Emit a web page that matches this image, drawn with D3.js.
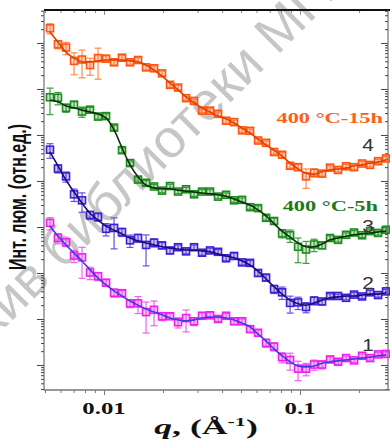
<!DOCTYPE html>
<html>
<head>
<meta charset="utf-8">
<script src="https://cdn.jsdelivr.net/npm/d3@7"></script>
<style>
  body { margin: 0; background: #fff; }
  svg { display: block; }
</style>
</head>
<body>
<svg id="chart" width="390" height="439"></svg>
<script>
// scattering vector q, 1/A
const q = [0.00530, 0.00582, 0.00640, 0.00703, 0.00772, 0.00848, 0.00932, 0.01024, 0.01125, 0.01235,
  0.01357, 0.01491, 0.01638, 0.01799, 0.01976, 0.02171, 0.02386, 0.02621, 0.02879, 0.03162,
  0.03474, 0.03816, 0.04193, 0.04606, 0.05060, 0.05559, 0.06107, 0.06709, 0.07370, 0.08097,
  0.08895, 0.09772, 0.1073, 0.1179, 0.1295, 0.1423, 0.1563, 0.1717, 0.1886, 0.2072,
  0.2276, 0.2500, 0.2747];

// lg of the fitted intensity (curves shifted for clarity)
const lgI4 = [7.24, 7.02, 6.80, 6.67, 6.59, 6.59, 6.61, 6.63, 6.63, 6.63, 6.61, 6.59, 6.52, 6.41, 6.28,
  6.13, 5.98, 5.83, 5.70, 5.59, 5.50, 5.41, 5.35, 5.26, 5.15, 5.04, 4.91, 4.78, 4.67, 4.54,
  4.39, 4.26, 4.17, 4.15, 4.20, 4.24, 4.26, 4.28, 4.33, 4.35, 4.39, 4.41, 4.46];
const lgI3 = [5.76, 5.72, 5.63, 5.59, 5.54, 5.50, 5.46, 5.37, 5.11, 4.72, 4.35, 4.09, 3.91, 3.85, 3.83,
  3.83, 3.80, 3.78, 3.76, 3.74, 3.72, 3.70, 3.67, 3.61, 3.54, 3.48, 3.37, 3.24, 3.07, 2.91,
  2.78, 2.65, 2.57, 2.57, 2.63, 2.72, 2.76, 2.80, 2.83, 2.85, 2.87, 2.89, 2.91];
const lgI2 = [4.63, 4.33, 4.02, 3.76, 3.52, 3.30, 3.15, 3.02, 2.93, 2.85, 2.76, 2.70, 2.65, 2.61, 2.57,
  2.54, 2.52, 2.50, 2.50, 2.48, 2.46, 2.41, 2.37, 2.33, 2.26, 2.17, 2.04, 1.87, 1.70, 1.54,
  1.41, 1.33, 1.30, 1.35, 1.41, 1.46, 1.48, 1.50, 1.50, 1.52, 1.54, 1.54, 1.57];
const lgI1 = [3.02, 2.80, 2.61, 2.43, 2.26, 2.07, 1.89, 1.74, 1.61, 1.50, 1.39, 1.30, 1.22, 1.15, 1.09,
  1.02, 0.98, 0.96, 0.98, 1.02, 1.04, 1.04, 1.02, 0.98, 0.91, 0.83, 0.67, 0.52, 0.35, 0.20,
  0.07, -0.02, -0.04, -0.02, 0.04, 0.07, 0.09, 0.11, 0.13, 0.15, 0.17, 0.20, 0.22];

// measured points: deviation from the fit (lg units)
const dev4 = [0.08, -0.05, 0.10, -0.06, 0.05, -0.07, 0.06, 0.03, -0.05, 0.05, -0.03, 0.04, -0.05, 0.04, 0.06,
  -0.04, 0.05, -0.03, 0.04, -0.06, 0.03, 0.05, -0.04, 0.02, -0.05, 0.05, -0.03, 0.05, -0.04, 0.03,
  -0.06, 0.04, -0.07, 0.03, -0.04, 0.05, -0.02, 0.04, -0.03, 0.03, -0.04, 0.02, 0.03];
const dev3 = [0.06, 0.09, -0.04, 0.07, -0.03, 0.05, -0.06, 0.04, 0.05, -0.05, 0.04, -0.06, 0.05, 0.03, -0.04,
  0.06, -0.03, 0.04, -0.05, 0.03, 0.05, -0.04, 0.03, -0.03, 0.05, -0.05, 0.04, -0.04, 0.06, -0.05,
  0.04, -0.08, -0.06, 0.05, -0.03, 0.04, -0.04, 0.03, 0.05, -0.03, 0.04, -0.02, 0.03];
const dev2 = [0.05, -0.06, 0.08, -0.05, 0.06, -0.04, 0.07, -0.06, 0.05, 0.04, -0.05, 0.06, -0.04, 0.05, 0.03,
  -0.05, 0.04, -0.03, 0.06, -0.04, 0.03, 0.05, -0.05, 0.04, -0.03, 0.05, -0.04, 0.03, -0.05, 0.04,
  -0.06, 0.03, -0.04, 0.05, -0.03, 0.04, 0.02, -0.04, 0.03, -0.03, 0.04, -0.02, 0.03];
const dev1 = [0.07, -0.04, 0.06, -0.05, 0.08, -0.06, 0.04, 0.05, -0.04, 0.06, -0.05, 0.04, -0.07, 0.05, -0.03,
  0.04, -0.05, 0.06, -0.03, 0.05, 0.04, -0.04, 0.05, -0.03, 0.04, -0.05, 0.03, -0.04, 0.05, -0.03,
  0.04, -0.06, -0.04, 0.03, -0.03, 0.05, -0.02, 0.04, -0.03, 0.05, -0.02, 0.03, 0.02];

// relative errors sigma/I
const err4 = [0.25, 0.2, 0.3, 0.5, 0.6, 0.4, 0.65, 0.15, 0.12, 0.12, 0.12, 0.12, 0.12, 0.12, 0.12,
  0.12, 0.12, 0.1, 0.1, 0.1, 0.1, 0.1, 0.12, 0.1, 0.1, 0.1, 0.1, 0.1, 0.1, 0.12,
  0.12, 0.15, 0.45, 0.2, 0.12, 0.1, 0.1, 0.1, 0.1, 0.1, 0.1, 0.1, 0.1];
const err3 = [0.58, 0.3, 0.2, 0.15, 0.25, 0.12, 0.12, 0.12, 0.12, 0.12, 0.12, 0.12, 0.12, 0.1, 0.1,
  0.1, 0.1, 0.1, 0.1, 0.1, 0.1, 0.1, 0.1, 0.1, 0.1, 0.1, 0.12, 0.12, 0.15, 0.2,
  0.3, 0.55, 0.5, 0.3, 0.15, 0.12, 0.1, 0.1, 0.1, 0.1, 0.1, 0.1, 0.1];
const err2 = [0.35, 0.2, 0.25, 0.3, 0.45, 0.2, 0.2, 0.3, 0.65, 0.2, 0.3, 0.2, 0.65, 0.2, 0.15,
  0.15, 0.12, 0.12, 0.12, 0.12, 0.12, 0.12, 0.12, 0.15, 0.12, 0.12, 0.15, 0.15, 0.2, 0.3,
  0.4, 0.3, 0.25, 0.2, 0.15, 0.12, 0.1, 0.1, 0.1, 0.1, 0.1, 0.1, 0.1];
const err1 = [0.3, 0.25, 0.2, 0.3, 0.65, 0.3, 0.2, 0.15, 0.2, 0.15, 0.2, 0.4, 0.65, 0.55, 0.2,
  0.15, 0.25, 0.5, 0.2, 0.15, 0.15, 0.12, 0.12, 0.15, 0.12, 0.15, 0.15, 0.2, 0.2, 0.25,
  0.4, 0.45, 0.3, 0.25, 0.2, 0.15, 0.12, 0.1, 0.1, 0.1, 0.1, 0.1, 0.1];

const xLabels = [0.01, 0.1];
const curveNums = ['4', '3', '2', '1'];
const sampleNames = ['400 °C-15h', '400 °C-5h'];

const svg = d3.select('#chart');
const L = 44, R = 388, T = 10, B = 390;

const x = d3.scaleLog().domain([0.00494, 0.281]).range([L, R]);
const y = d3.scaleLog().domain([0.286, 5.21e7]).range([B, T]);

const serif = '"Liberation Serif", "DejaVu Serif", serif';
const sans = '"Liberation Sans", Arial, sans-serif';

// watermark
svg.append('text')
  .attr('transform', 'translate(-55,388) rotate(-45)')
  .attr('font-family', sans)
  .attr('font-size', 54)
  .attr('fill', '#c6c6c6')
  .text('Архив библиотеки МГУ');

// axes
const isMajor = v => Math.abs(Math.log10(v) - Math.round(Math.log10(v))) < 1e-6;

function styleTicks(g, big, small, color) {
  g.select('.domain').remove();
  g.selectAll('.tick line').attr('stroke', color).attr('stroke-width', 1);
  g.selectAll('.tick text').remove();
  g.selectAll('.tick').each(function (d) {
    const ln = d3.select(this).select('line');
    const len = isMajor(d) ? big : small;
    if (ln.attr('x2') !== null && +ln.attr('x2') !== 0) ln.attr('x2', Math.sign(+ln.attr('x2')) * len);
    if (ln.attr('y2') !== null && +ln.attr('y2') !== 0) ln.attr('y2', Math.sign(+ln.attr('y2')) * len);
  });
}

svg.append('g').attr('transform', `translate(0,${B})`)
  .call(d3.axisBottom(x).tickValues(x.ticks()).tickSize(4))
  .call(g => styleTicks(g, 5, 3, '#777'));
svg.append('g').attr('transform', `translate(0,${T})`)
  .call(d3.axisBottom(x).tickValues(x.ticks()).tickSize(4))
  .call(g => styleTicks(g, 5, 3, '#888'));
svg.append('g').attr('transform', `translate(${L},0)`)
  .call(d3.axisLeft(y).tickValues(y.ticks()).tickSize(3))
  .call(g => styleTicks(g, 7, 3, '#444'));
svg.append('g').attr('transform', `translate(${R},0)`)
  .call(d3.axisLeft(y).tickValues(y.ticks()).tickSize(3))
  .call(g => styleTicks(g, 7, 3, '#444'));

svg.append('line').attr('x1', L).attr('x2', 390).attr('y1', T).attr('y2', T)
  .attr('stroke', '#111').attr('stroke-width', 2);
svg.append('line').attr('x1', L).attr('x2', 390).attr('y1', B).attr('y2', B)
  .attr('stroke', '#777').attr('stroke-width', 1.5);
svg.append('line').attr('x1', L).attr('x2', L).attr('y1', T).attr('y2', B)
  .attr('stroke', '#555').attr('stroke-width', 1);
svg.append('line').attr('x1', R).attr('x2', R).attr('y1', T).attr('y2', B)
  .attr('stroke', '#555').attr('stroke-width', 1);

// curves
const series = [
  { lg: lgI4, dev: dev4, err: err4, pt: '#ff5512', bar: '#ff8a48', fit: '#e04000' },
  { lg: lgI3, dev: dev3, err: err3, pt: '#1f8c1f', bar: '#3aa03a', fit: '#0b2f0b' },
  { lg: lgI2, dev: dev2, err: err2, pt: '#3d1fd6', bar: '#6a50e0', fit: '#151070' },
  { lg: lgI1, dev: dev1, err: err1, pt: '#f01ef0', bar: '#f060f0', fit: '#3c3ce0' }
];

const line = d3.line().x(d => x(d[0])).y(d => y(d[1])).curve(d3.curveCatmullRom);

series.forEach(s => {
  const pts = q.map((qv, i) => ({ q: qv, I: Math.pow(10, s.lg[i] + s.dev[i]), e: s.err[i] }));
  const g = svg.append('g');
  const eb = g.selectAll('g.eb').data(pts).enter().append('g').attr('class', 'eb')
    .attr('stroke', s.bar).attr('stroke-width', 1.2);
  eb.append('line').attr('x1', d => x(d.q)).attr('x2', d => x(d.q))
    .attr('y1', d => y(d.I * (1 + d.e))).attr('y2', d => y(d.I * (1 - d.e)));
  eb.append('line').attr('x1', d => x(d.q) - 3.5).attr('x2', d => x(d.q) + 3.5)
    .attr('y1', d => y(d.I * (1 + d.e))).attr('y2', d => y(d.I * (1 + d.e)));
  eb.append('line').attr('x1', d => x(d.q) - 3.5).attr('x2', d => x(d.q) + 3.5)
    .attr('y1', d => y(d.I * (1 - d.e))).attr('y2', d => y(d.I * (1 - d.e)));
  g.selectAll('rect').data(pts).enter().append('rect')
    .attr('x', d => x(d.q) - 3.5).attr('y', d => y(d.I) - 3.5)
    .attr('width', 7).attr('height', 7)
    .attr('fill', s.pt).attr('fill-opacity', 0.25)
    .attr('stroke', s.pt).attr('stroke-width', 1.6);
  g.append('path')
    .datum(q.map((qv, i) => [qv, Math.pow(10, s.lg[i])]))
    .attr('d', line).attr('fill', 'none')
    .attr('stroke', s.fit).attr('stroke-width', 1.6);
});

// text
function txt(t, px, py, size, opt) {
  return svg.append('text')
    .attr('transform', `translate(${px},${py}) scale(${opt.sx || 1},1)`)
    .attr('text-anchor', opt.anchor || 'middle')
    .attr('font-family', opt.font || serif)
    .attr('font-weight', opt.weight || 'bold')
    .attr('font-size', size)
    .attr('fill', opt.color || '#111')
    .text(t);
}

xLabels.forEach(v => txt(String(v), x(v), 414, 16, { sx: 1.55 }));

const xt = svg.append('text')
  .attr('transform', 'translate(206,434) scale(1.7,1)')
  .attr('text-anchor', 'middle')
  .attr('font-family', serif).attr('font-weight', 'bold').attr('font-size', 21).attr('fill', '#111');
xt.append('tspan').attr('font-style', 'italic').text('q');
xt.append('tspan').text(', (Å');
xt.append('tspan').attr('font-size', 13).attr('dy', -8).text('-1');
xt.append('tspan').attr('dy', 8).text(')');

svg.append('text')
  .attr('transform', 'translate(26,197) rotate(-90) scale(1,1.45)')
  .attr('text-anchor', 'middle')
  .attr('font-family', sans).attr('font-weight', 'bold').attr('font-size', 16).attr('fill', '#111')
  .text('Инт. люм. (отн.ед.)');

txt(sampleNames[0], 383, 123, 14, { sx: 1.6, anchor: 'end', color: '#ff5e1a' });
txt(sampleNames[1], 378, 211, 14, { sx: 1.6, anchor: 'end', color: '#1c7a1c' });

[[145], [226], [283], [345]].forEach((p, i) =>
  txt(curveNums[i], 368, p[0] + 6, 16, { sx: 1.3, font: sans, weight: 'normal', color: '#333' }));
</script>
</body>
</html>
